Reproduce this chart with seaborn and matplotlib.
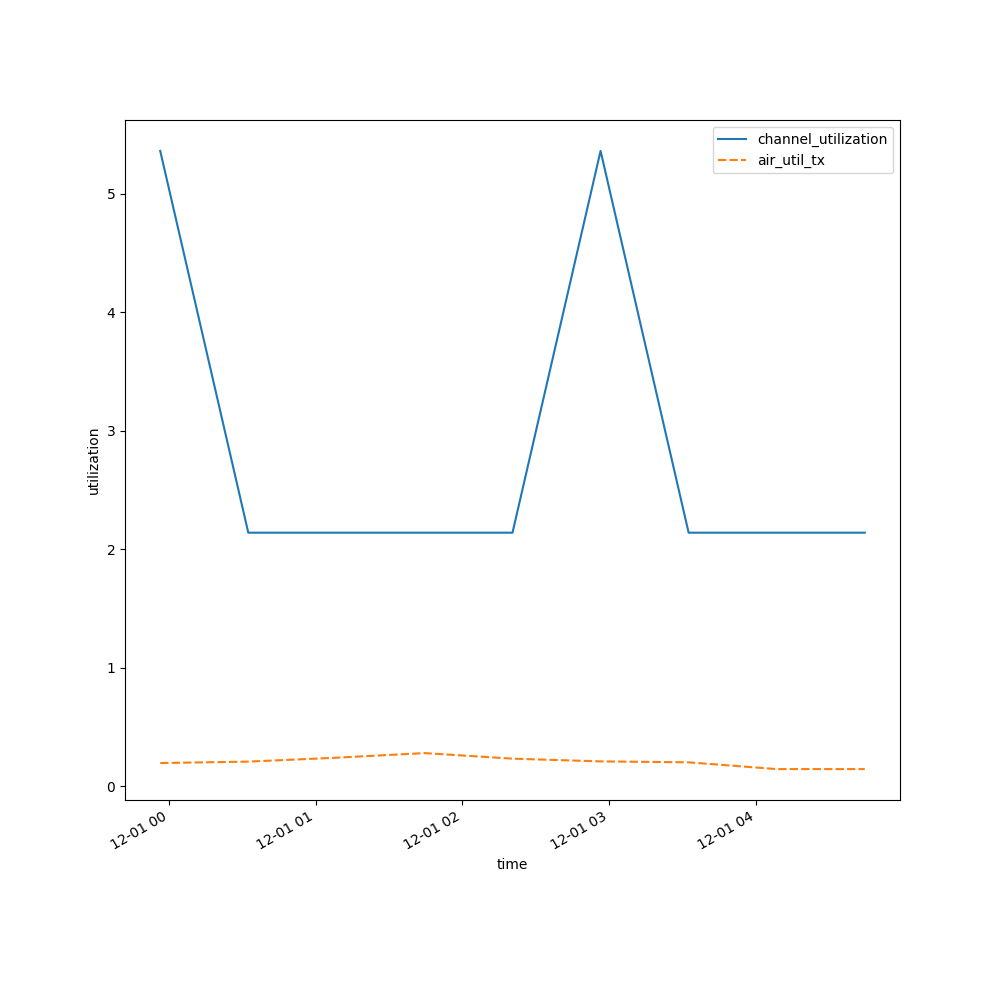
import pandas as pd
import numpy as np
import matplotlib
matplotlib.use("Agg")
import matplotlib.pyplot as plt
import seaborn as sns

times = pd.date_range("2024-11-30 23:56:30", periods=9, freq="36min")
channel_utilization = [5.36, 2.14, 2.14, 2.14, 2.14, 5.36, 2.14, 2.14, 2.14]
air_util_tx = [0.197, 0.209, 0.242, 0.281, 0.234, 0.211, 0.203, 0.146, 0.146]

df = pd.DataFrame({
    "channel_utilization": channel_utilization,
    "air_util_tx": air_util_tx,
}, index=pd.Index(times, name="time"))

fig, ax = plt.subplots(figsize=(10, 10))
sns.lineplot(data=df, ax=ax)
ax.set_xlabel("time")
ax.set_ylabel("utilization")
ax.legend(loc="upper right")
fig.autofmt_xdate()
plt.savefig("out.png", dpi=100)
